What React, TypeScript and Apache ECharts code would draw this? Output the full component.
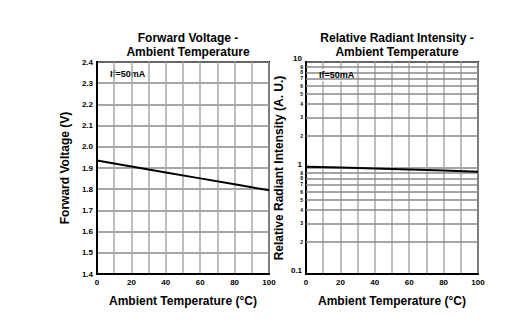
import React, { useEffect, useRef } from "react";
import * as echarts from "echarts";

const temps = [0, 20, 40, 60, 80, 100];
const forwardVoltage = [1.935, 1.907, 1.879, 1.851, 1.823, 1.795];
const radiantIntensity = [1.03, 1.01, 0.99, 0.97, 0.945, 0.92];
const xTicks = [0, 20, 40, 60, 80, 100];
const logMinor = [0.2, 0.3, 0.4, 0.5, 0.6, 0.7, 0.8, 0.9, 2, 3, 4, 5, 6, 7, 8, 9];
const titles = ["Forward Voltage -\nAmbient Temperature", "Relative Radiant Intensity -\nAmbient Temperature"];
const yNames = ["Forward Voltage (V)", "Relative Radiant Intensity (A. U.)"];
const xName = "Ambient Temperature (°C)";
const note = "If=50mA";

const FONT = "'Liberation Sans', Arial, sans-serif";

export default function App() {
  const ref = useRef<HTMLDivElement>(null);
  useEffect(() => {
    if (!ref.current) return;
    const chart = echarts.init(ref.current, undefined, { renderer: "svg" });
    const axisLabel = { color: "#000", fontSize: 8, fontWeight: "bold", fontFamily: FONT, margin: 4 };
    const nameStyle = { color: "#000", fontSize: 12, fontWeight: "bold", fontFamily: FONT };
    const vSplit = { show: true, lineStyle: { color: "#a8a8a8", width: 1.5 } };
    const hSplit = { show: true, lineStyle: { color: "#888888", width: 1.5 } };
    const xAxisBase = (gi: number) => ({
      type: "value",
      gridIndex: gi,
      min: 0,
      max: 100,
      interval: 10,
      name: xName,
      nameLocation: "middle",
      nameGap: 21,
      nameTextStyle: nameStyle,
      axisLine: { show: true, lineStyle: { color: "#000", width: 2 } },
      axisTick: { show: false },
      axisLabel: {
        ...axisLabel,
        formatter: (v: number) => (xTicks.includes(v) ? String(v) : ""),
      },
      splitLine: vSplit,
    });
    const option: any = {
      animation: false,
      backgroundColor: "#fff",
      title: titles.map((t, i) => ({
        text: t,
        left: i === 0 ? 183 : 392,
        top: 26,
        textAlign: "center",
        textStyle: { ...nameStyle, lineHeight: 14 },
      })),
      grid: [
        { left: 97, top: 62, width: 172, height: 212, show: true, borderColor: "#000", borderWidth: 2, backgroundColor: "transparent" },
        { left: 306, top: 62, width: 172, height: 212, show: true, borderColor: "#000", borderWidth: 2, backgroundColor: "transparent" },
      ],
      xAxis: [xAxisBase(0), xAxisBase(1)],
      yAxis: [
        {
          type: "value",
          gridIndex: 0,
          min: 1.4,
          max: 2.4,
          interval: 0.1,
          name: yNames[0],
          nameLocation: "middle",
          nameGap: 26,
          nameTextStyle: nameStyle,
          axisLine: { show: true, lineStyle: { color: "#000", width: 2 } },
          axisTick: { show: false },
          axisLabel: { ...axisLabel, formatter: (v: number) => v.toFixed(1) },
          splitLine: hSplit,
        },
        {
          type: "log",
          logBase: 10,
          gridIndex: 1,
          min: 0.1,
          max: 10,
          name: yNames[1],
          nameLocation: "middle",
          nameGap: 21,
          nameTextStyle: nameStyle,
          axisLine: { show: true, lineStyle: { color: "#000", width: 2 } },
          axisTick: { show: false },
          axisLabel: {
            ...axisLabel,
            verticalAlign: "bottom",
            lineHeight: 8,
            formatter: (v: number) => String(v),
          },
          splitLine: hSplit,
        },
      ],
      graphic: [
        {
          type: "text",
          left: 110,
          top: 69,
          style: { text: note, fill: "#000", font: `bold 9px ${FONT}` },
        },
        {
          type: "rect",
          shape: { x: 317, y: 69, width: 36, height: 12 },
          style: { fill: "#fff" },
          z: 5,
        },
        {
          type: "text",
          left: 319,
          top: 70,
          z: 6,
          style: { text: note, fill: "#000", font: `bold 9px ${FONT}` },
        },
      ],
      series: [
        {
          type: "line",
          xAxisIndex: 0,
          yAxisIndex: 0,
          data: temps.map((t, i) => [t, forwardVoltage[i]]),
          showSymbol: false,
          lineStyle: { color: "#000", width: 2 },
          silent: true,
          z: 10,
        },
        {
          type: "line",
          xAxisIndex: 1,
          yAxisIndex: 1,
          data: temps.map((t, i) => [t, radiantIntensity[i]]),
          showSymbol: false,
          lineStyle: { color: "#000", width: 2 },
          silent: true,
          z: 10,
          markLine: {
            silent: true,
            symbol: "none",
            animation: false,
            lineStyle: { color: "#888888", width: 1.5, type: "solid" },
            label: {
              show: true,
              position: "start",
              distance: 3,
              color: "#000",
              fontSize: 5,
              lineHeight: 5,
              fontWeight: "bold",
              fontFamily: FONT,
              formatter: (p: any) => {
                const v = p.value;
                return String(v < 1 ? Math.round(v * 10) : v);
              },
            },
            data: logMinor.map((v) => ({ yAxis: v })),
          },
        },
      ],
    };
    chart.setOption(option);
    return () => chart.dispose();
  }, []);
  return <div ref={ref} style={{ width: 519, height: 325, marginLeft: -8, marginTop: -8 }} />;
}
